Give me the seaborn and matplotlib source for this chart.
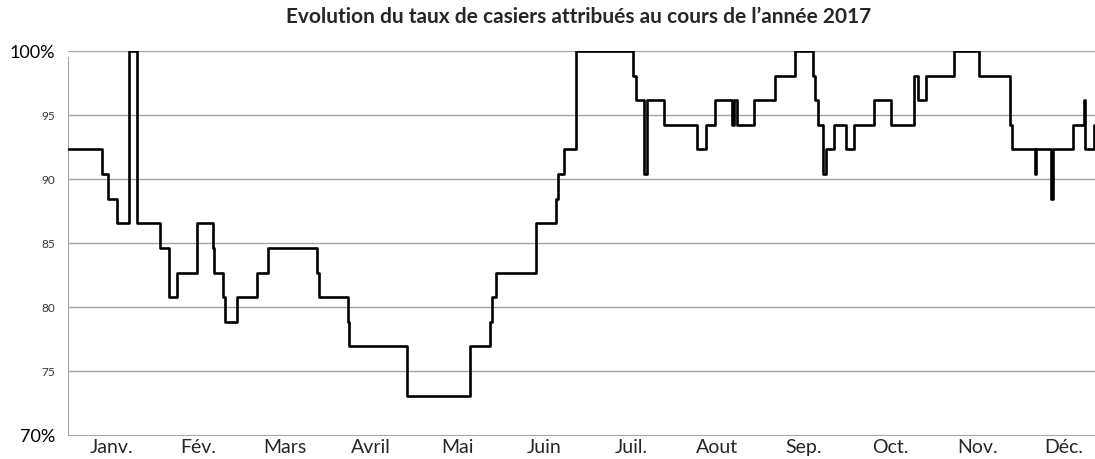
import numpy as np
import pandas as pd
import matplotlib
matplotlib.use('Agg')
import matplotlib.pyplot as plt
import seaborn as sns

# --- DATA ---
# day of year at which each step starts, and the occupancy rate (%) from that day on
day_start = [0, 12.0, 14.2, 17.3, 21.4, 24.3, 32.3, 35.5, 38.4, 45.4,
             50.8, 51.3, 54.3, 55.1, 59.3, 66.3, 70.4, 87.4, 88.3, 98.2,
             98.8, 119.2, 141.2, 148.2, 149.0, 150.2, 164.3, 171.3, 172.2, 174.2,
             178.3, 198.6, 199.4, 202.3, 203.3, 209.4, 220.8, 224.3, 227.3, 233.3,
             234.0, 234.9, 241.1, 248.3, 255.4, 261.8, 262.4, 263.3, 265.1, 266.2,
             269.2, 273.2, 276.2, 283.1, 289.1, 297.3, 298.7, 301.3, 311.2, 320.1,
             330.9, 331.8, 339.7, 340.2, 345.2, 346.1, 353.1, 356.9, 357.4, 360.4,
             361.1]
rate = [92.31, 90.38, 88.46, 86.54, 100.0, 86.54, 84.62, 80.77, 82.69, 86.54,
        84.62, 82.69, 80.77, 78.85, 80.77, 82.69, 84.62, 82.69, 80.77, 78.85,
        76.92, 73.08, 76.92, 78.85, 80.77, 82.69, 86.54, 88.46, 90.38, 92.31,
        100.0, 98.08, 96.15, 90.38, 96.15, 94.23, 92.31, 94.23, 96.15, 94.23,
        96.15, 94.23, 96.15, 98.08, 100.0, 98.08, 96.15, 94.23, 90.38, 92.31,
        94.23, 92.31, 94.23, 96.15, 94.23, 98.08, 96.15, 98.08, 100.0, 98.08,
        94.23, 92.31, 90.38, 92.31, 88.46, 92.31, 94.23, 96.15, 92.31, 94.23,
        94.23]

months = ['Janv.', 'Fév.', 'Mars', 'Avril', 'Mai', 'Juin',
          'Juil.', 'Aout', 'Sep.', 'Oct.', 'Nov.', 'Déc.']
y_ticks = [70, 75, 80, 85, 90, 95, 100]
y_labels = ['70%', '75', '80', '85', '90', '95', '100%']

df = pd.DataFrame({'Jour': day_start, 'Taux': rate})

sns.set_style("white")
plt.rcParams['font.family'] = ['Lato', 'DejaVu Sans']

fig = plt.figure(figsize=(10.95, 4.59), dpi=100)
ax = fig.add_axes([68 / 1095, 24 / 459, 1039 / 1095, 384 / 459])

sns.lineplot(data=df, x='Jour', y='Taux', ax=ax, color='black',
             linewidth=1.9, drawstyle='steps-post', zorder=3)

ax.set_xlim(0, 365)
ax.set_ylim(70, 100)

# horizontal gridlines
for y in y_ticks[1:]:
    ax.axhline(y, color='#a6a6a6', linewidth=1, zorder=1)

# y axis
ax.set_yticks(y_ticks)
ax.set_yticklabels(y_labels)
for lab, v in zip(ax.get_yticklabels(), y_ticks):
    lab.set_fontsize(13 if v in (70, 100) else 8.5)
    lab.set_color('black' if v in (70, 100) else '#333333')
ax.tick_params(axis='y', direction='out', length=6, color='#a6a6a6', pad=3)

# x axis: month boundaries as ticks, names centred on each month
month_len = 365 / 12
ax.set_xticks([i * month_len for i in range(13)])
ax.set_xticklabels([])
ax.set_xticks([(i + 0.5) * month_len for i in range(12)], minor=True)
ax.set_xticklabels(months, minor=True, fontsize=14)
ax.tick_params(axis='x', which='major', direction='out', length=5, color='#a6a6a6')
ax.tick_params(axis='x', which='minor', length=0, pad=3)

ax.set_xlabel('')
ax.set_ylabel('')
for side in ['top', 'right']:
    ax.spines[side].set_visible(False)
ax.spines['left'].set_color('#a6a6a6')
ax.spines['left'].set_bounds(70, 99.5)
ax.spines['bottom'].set_color('#a6a6a6')

fig.text(0.528, 0.963, "Evolution du taux de casiers attribués au cours de l’année 2017",
         ha='center', va='center', fontsize=15, fontweight='bold')

fig.savefig('out.png', dpi=100)
